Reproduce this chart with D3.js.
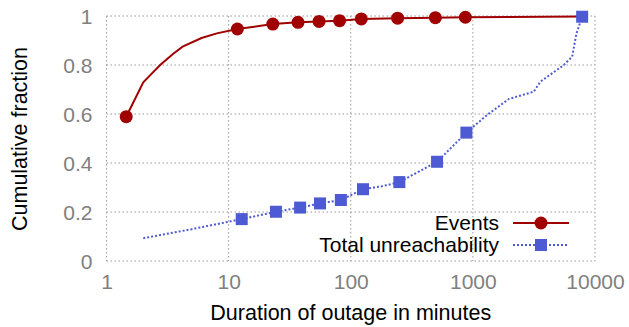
<!DOCTYPE html>
<html>
<head>
    <title>Cumulative fraction of outage duration</title>
    <script src="https://d3js.org/d3.v7.min.js"></script>
    <style>
        body { margin: 0; background: #fff; }
        text { font-family: "Liberation Sans", Arial, sans-serif; }
    </style>
</head>
<body>
    <div id="chart"></div>

    <script>
        // Events: full curve and the marked points
        const eventsLineX = [1.45, 2.0, 2.4, 2.75, 3.5, 4.2, 6, 8, 11.8, 23, 37, 55, 81, 122, 242, 493, 868, 7850];
        const eventsLineY = [0.589, 0.729, 0.77, 0.80, 0.845, 0.875, 0.91, 0.929, 0.947, 0.967, 0.974, 0.978, 0.981, 0.988, 0.991, 0.993, 0.995, 0.998];
        const eventsPtX = [1.45, 11.8, 23, 37, 55, 81, 122, 242, 493, 868];
        const eventsPtY = [0.589, 0.947, 0.967, 0.974, 0.978, 0.981, 0.988, 0.991, 0.993, 0.995];

        // Total unreachability: full curve and the marked points
        const unreachLineX = [2.0, 5, 12.8, 24.4, 38.5, 56, 83, 126, 180, 250, 509, 885, 1307, 1965, 3150, 3575, 5550, 6500, 7050, 7850];
        const unreachLineY = [0.093, 0.13, 0.171, 0.201, 0.218, 0.235, 0.249, 0.293, 0.305, 0.322, 0.405, 0.524, 0.596, 0.661, 0.691, 0.732, 0.8, 0.834, 0.929, 0.997];
        const unreachPtX = [12.8, 24.4, 38.5, 56, 83, 126, 250, 509, 885, 7850];
        const unreachPtY = [0.171, 0.201, 0.218, 0.235, 0.249, 0.293, 0.322, 0.405, 0.524, 0.997];

        const xTicks = [1, 10, 100, 1000, 10000];
        const yTicks = [0, 0.2, 0.4, 0.6, 0.8, 1];
        const seriesNames = ["Events", "Total unreachability"];

        const W = 629, H = 327;
        const margin = { top: 16, right: 34, bottom: 66, left: 106.5 };
        const width = W - margin.left - margin.right;
        const height = H - margin.top - margin.bottom;

        const red = "#a00000";
        const blue = "#4e5ad4";
        const gridColor = "#9a9a9a";
        const fontSize = "21.5px";

        const svg = d3.select("#chart").append("svg")
            .attr("width", W)
            .attr("height", H);

        const g = svg.append("g")
            .attr("transform", "translate(" + margin.left + "," + margin.top + ")");

        const x = d3.scaleLog().domain([1, 10000]).range([0, width]);
        const y = d3.scaleLinear().domain([0, 1]).range([height, 0]);

        // grid + border, dotted
        g.selectAll(".vgrid").data(xTicks).enter().append("line")
            .attr("x1", d => x(d)).attr("x2", d => x(d))
            .attr("y1", 0).attr("y2", height)
            .attr("stroke", gridColor).attr("stroke-width", 1)
            .attr("stroke-dasharray", "1.5,2.5");
        g.selectAll(".hgrid").data(yTicks).enter().append("line")
            .attr("x1", 0).attr("x2", width)
            .attr("y1", d => y(d)).attr("y2", d => y(d))
            .attr("stroke", gridColor).attr("stroke-width", 1)
            .attr("stroke-dasharray", "1.5,2.5");

        // axes (labels only)
        const xAxis = g.append("g")
            .attr("transform", "translate(0," + height + ")")
            .call(d3.axisBottom(x).tickValues(xTicks).tickFormat(d3.format("d")).tickSize(0).tickPadding(13));
        const yAxis = g.append("g")
            .call(d3.axisLeft(y).tickValues(yTicks).tickFormat(d => d === 0 || d === 1 ? d : d3.format(".1f")(d)).tickSize(0).tickPadding(14));
        [xAxis, yAxis].forEach(a => {
            a.select(".domain").remove();
            a.selectAll("text")
                .attr("fill", "#808080")
                .style("font-size", "21px")
                .style("font-family", "Liberation Sans, Arial, sans-serif");
        });
        yAxis.selectAll("text").attr("dy", "0.35em");

        const line = d3.line().x(d => x(d[0])).y(d => y(d[1]));

        const eventsLine = eventsLineX.map((v, i) => [v, eventsLineY[i]]);
        const eventsPts = eventsPtX.map((v, i) => [v, eventsPtY[i]]);
        const unreachLine = unreachLineX.map((v, i) => [v, unreachLineY[i]]);
        const unreachPts = unreachPtX.map((v, i) => [v, unreachPtY[i]]);

        g.append("path").datum(unreachLine)
            .attr("d", line)
            .attr("fill", "none")
            .attr("stroke", blue)
            .attr("stroke-width", 2)
            .attr("stroke-dasharray", "2,2");

        g.append("path").datum(eventsLine)
            .attr("d", line)
            .attr("fill", "none")
            .attr("stroke", red)
            .attr("stroke-width", 2);

        g.selectAll(".evpt").data(eventsPts).enter().append("circle")
            .attr("cx", d => x(d[0]))
            .attr("cy", d => y(d[1]))
            .attr("r", 6.5)
            .attr("fill", red);

        g.selectAll(".unpt").data(unreachPts).enter().append("rect")
            .attr("x", d => x(d[0]) - 6)
            .attr("y", d => y(d[1]) - 6)
            .attr("width", 12)
            .attr("height", 12)
            .attr("fill", blue);

        // legend
        const legend = svg.append("g");
        seriesNames.forEach((name, i) => {
            const ly = 223 + i * 22;
            legend.append("text")
                .attr("x", 499)
                .attr("y", ly)
                .attr("dy", "0.35em")
                .attr("text-anchor", "end")
                .style("font-size", "21px")
                .attr("fill", "#000")
                .text(name);
            legend.append("line")
                .attr("x1", 513).attr("x2", 569)
                .attr("y1", ly).attr("y2", ly)
                .attr("stroke", i === 0 ? red : blue)
                .attr("stroke-width", 2)
                .attr("stroke-dasharray", i === 0 ? null : "2,2");
            if (i === 0) {
                legend.append("circle").attr("cx", 541).attr("cy", ly).attr("r", 6.5).attr("fill", red);
            } else {
                legend.append("rect").attr("x", 535).attr("y", ly - 6).attr("width", 12).attr("height", 12).attr("fill", blue);
            }
        });

        // axis titles
        svg.append("text")
            .attr("x", margin.left + width / 2)
            .attr("y", 312)
            .attr("dy", "0.35em")
            .attr("text-anchor", "middle")
            .style("font-size", fontSize)
            .text("Duration of outage in minutes");

        svg.append("text")
            .attr("transform", "translate(19,139) rotate(-90)")
            .attr("dy", "0.35em")
            .attr("text-anchor", "middle")
            .style("font-size", fontSize)
            .text("Cumulative fraction");
    </script>
</body>
</html>
